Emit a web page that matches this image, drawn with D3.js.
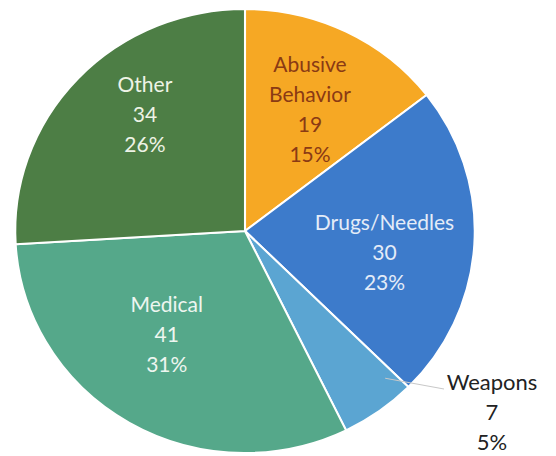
<!DOCTYPE html>
<html><head><meta charset="utf-8">
<script src="https://cdn.jsdelivr.net/npm/d3@7"></script>
<style>html,body{margin:0;padding:0;background:#fff;}svg{display:block;}</style>
</head><body>
<svg id="chart" width="556" height="456"></svg>
<script>
const categories = ["Abusive Behavior", "Drugs/Needles", "Weapons", "Medical", "Other"];
const labelLines = [["Abusive", "Behavior"], ["Drugs/Needles"], ["Weapons"], ["Medical"], ["Other"]];
const values = [19, 30, 7, 41, 34];
const colors = ["#f6a824", "#3d7bcb", "#5ba5d2", "#55a88a", "#4d7e45"];
const textColors = ["#8a3a14", "#e4ecf8", "#222222", "#eef6f0", "#eef3e6"];

const W = 556, H = 456;
const cx = 245, cy = 231, R = 222, sx = 1.035;
const total = d3.sum(values);
const svg = d3.select("#chart");

const pie = d3.pie().sort(null).value(d => d.v);
const data = pie(values.map((v, i) => ({v, i})));
const arc = d3.arc().innerRadius(0).outerRadius(R);

const g = svg.append("g").attr("transform", `translate(${cx},${cy}) scale(${sx},1)`);
g.selectAll("path").data(data).join("path")
  .attr("d", arc)
  .attr("fill", d => colors[d.data.i])
  .attr("stroke", "#ffffff")
  .attr("stroke-width", 2)
  .attr("stroke-linejoin", "round");

// label placement (radius factor / angle nudge per slice; outside for Weapons)
const labelR = [0.614, 0.615, 1.0, 0.58, 0.68];
const angleNudge = [0.023, 0.1, 0, 0.1, 0.12];
const fmtPct = v => Math.round(v / total * 100) + "%";
const lineH = 30;

const lg = svg.append("g").attr("transform", `translate(${cx},${cy})`);
data.forEach(d => {
  const i = d.data.i;
  const lines = labelLines[i].concat([String(values[i]), fmtPct(values[i])]);
  let x, y;
  if (i === 2) {
    const a = (d.startAngle + d.endAngle) / 2;
    const p = [Math.sin(a) * R * sx, -Math.cos(a) * R];
    x = 247; y = 182;
    lg.append("line")
      .attr("x1", p[0] + 6).attr("y1", p[1] - 33)
      .attr("x2", 199).attr("y2", 158)
      .attr("stroke", "#c8c8c8").attr("stroke-width", 1);
  } else {
    const a = (d.startAngle + d.endAngle) / 2 + angleNudge[i];
    x = Math.sin(a) * R * labelR[i] * sx;
    y = -Math.cos(a) * R * labelR[i];
  }
  const t = lg.append("text")
    .attr("text-anchor", "middle")
    .attr("font-family", "Lato, 'Open Sans', sans-serif")
    .attr("font-size", i === 2 ? 22 : 21)
    .attr("fill", textColors[i]);
  const n = lines.length;
  lines.forEach((s, k) => {
    t.append("tspan").attr("x", x)
      .attr("y", y + (k - (n - 1) / 2) * lineH + 7)
      .text(s);
  });
});
</script>
</body></html>
